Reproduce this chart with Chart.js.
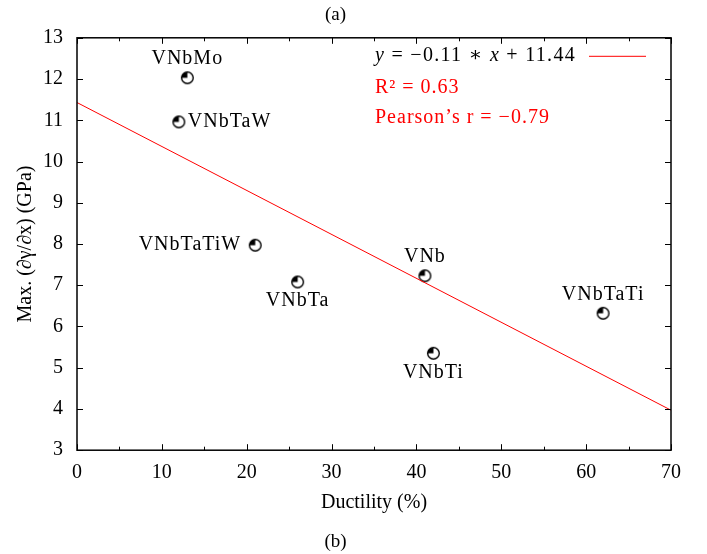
<!DOCTYPE html>
<html>
<head>
<meta charset="utf-8">
<script src="https://cdn.jsdelivr.net/npm/chart.js@4.4.1/dist/chart.umd.min.js"></script>
<style>
  html, body { margin: 0; padding: 0; background: #fff; }
  #wrap { width: 707px; height: 554px; }
</style>
</head>
<body>
<div id="wrap"><canvas id="chartScatter"></canvas></div>
<script>
const alloys = ["VNbMo", "VNbTaW", "VNbTaTiW", "VNbTa", "VNb", "VNbTi", "VNbTaTi"];
const ductility = [13, 12, 21, 26, 41, 42, 62];
const maxGradient = [12.03, 10.96, 7.97, 7.08, 7.23, 5.35, 6.32];
const labelSide = ["above", "right", "left", "below", "above", "below", "above"];

const fitX = [0, 70];
const fitY = [11.43, 3.97];
const fitLabel = "y = −0.11 ∗ x + 11.44";
const statLines = ["R² = 0.63", "Pearson’s r = −0.79"];

const xMinorTicks = [0, 5, 10, 15, 20, 25, 30, 35, 40, 45, 50, 55, 60, 65, 70];
const yTicks = [3, 4, 5, 6, 7, 8, 9, 10, 11, 12, 13];

const serif = "'Liberation Serif', 'DejaVu Serif', serif";
Chart.defaults.font.family = serif;
Chart.defaults.font.size = 20;
Chart.defaults.color = "#000";

// circle with the upper-left quarter filled
const marker = (() => {
  const c = document.createElement("canvas");
  c.width = 15;
  c.height = 15;
  const g = c.getContext("2d");
  g.beginPath();
  g.arc(7.5, 7.5, 5.8, 0, Math.PI * 2);
  g.fillStyle = "#fff";
  g.fill();
  g.beginPath();
  g.moveTo(7.5, 7.5);
  g.arc(7.5, 7.5, 5.8, Math.PI, Math.PI * 1.5);
  g.closePath();
  g.fillStyle = "#000";
  g.fill();
  g.beginPath();
  g.arc(7.5, 7.5, 5.8, 0, Math.PI * 2);
  g.lineWidth = 1.4;
  g.strokeStyle = "#000";
  g.stroke();
  return c;
})();

const frame = {
  id: "frame",
  afterDatasetsDraw(chart) {
    const { ctx, chartArea: a, scales } = chart;
    ctx.save();
    ctx.strokeStyle = "#000";
    ctx.lineWidth = 1;
    ctx.beginPath();
    xMinorTicks.forEach(v => {
      const px = Math.round(scales.x.getPixelForValue(v)) + 0.5;
      const len = v % 10 === 0 ? 6 : 3.5;
      ctx.moveTo(px, a.bottom); ctx.lineTo(px, a.bottom - len);
      ctx.moveTo(px, a.top); ctx.lineTo(px, a.top + len);
    });
    yTicks.forEach(v => {
      const py = Math.round(scales.y.getPixelForValue(v)) + 0.5;
      ctx.moveTo(a.left, py); ctx.lineTo(a.left + 6, py);
      ctx.moveTo(a.right, py); ctx.lineTo(a.right - 6, py);
    });
    ctx.stroke();
    ctx.lineWidth = 1.5;
    ctx.strokeRect(a.left, a.top, a.right - a.left, a.bottom - a.top);

    // point labels
    ctx.fillStyle = "#000";
    ctx.font = "20px " + serif;
    ctx.letterSpacing = "1px";
    ctx.textBaseline = "middle";
    alloys.forEach((name, i) => {
      const px = scales.x.getPixelForValue(ductility[i]);
      const py = scales.y.getPixelForValue(maxGradient[i]);
      const side = labelSide[i];
      if (side === "above") { ctx.textAlign = "center"; ctx.fillText(name, px, py - 19); }
      if (side === "below") { ctx.textAlign = "center"; ctx.fillText(name, px, py + 19); }
      if (side === "right") { ctx.textAlign = "left"; ctx.fillText(name, px + 9, py); }
      if (side === "left") { ctx.textAlign = "right"; ctx.fillText(name, px - 14, py); }
    });

    // key: equation stretched to the width it has in the figure
    const kx = a.left + 298;
    const ky = a.top + 18;
    ctx.textAlign = "left";
    const parts = [["y", true], [" = −0.11 ∗ ", false], ["x", true], [" + 11.44", false]];
    ctx.letterSpacing = "0px";
    let w0 = 0, n = 0;
    parts.forEach(([t, it]) => {
      ctx.font = (it ? "italic " : "") + "20px " + serif;
      w0 += ctx.measureText(t).width;
      n += t.length;
    });
    const ls = Math.max(0, (201 - w0) / n);
    ctx.letterSpacing = ls.toFixed(2) + "px";
    let cx = kx;
    parts.forEach(([t, it]) => {
      ctx.font = (it ? "italic " : "") + "20px " + serif;
      ctx.fillText(t, cx, ky);
      cx += ctx.measureText(t).width;
    });
    ctx.strokeStyle = "#ff0000";
    ctx.lineWidth = 1;
    ctx.beginPath();
    ctx.moveTo(a.right - 82, ky + 0.5);
    ctx.lineTo(a.right - 25, ky + 0.5);
    ctx.stroke();
    ctx.fillStyle = "#ff0000";
    ctx.font = "20px " + serif;
    ctx.letterSpacing = "1px";
    statLines.forEach((t, i) => ctx.fillText(t, kx, ky + 32 + i * 30));
    ctx.restore();
  },
};

new Chart(document.getElementById("chartScatter").getContext("2d"), {
  type: "scatter",
  data: {
    datasets: [
      {
        label: fitLabel,
        type: "line",
        data: fitX.map((x, i) => ({ x, y: fitY[i] })),
        borderColor: "#ff0000",
        borderWidth: 1,
        pointRadius: 0,
        fill: false,
      },
      {
        label: "alloys",
        data: ductility.map((x, i) => ({ x, y: maxGradient[i] })),
        pointStyle: marker,
        pointRadius: 6,
      },
    ],
  },
  options: {
    responsive: true,
    maintainAspectRatio: false,
    animation: false,
    layout: { padding: { top: 0, right: 36, bottom: 0, left: 0 } },
    plugins: {
      legend: { display: false },
      tooltip: { enabled: false },
      title: {
        display: true,
        text: "(a)",
        font: { size: 19, weight: "normal" },
        padding: { top: 4, bottom: 11 },
      },
      subtitle: {
        display: true,
        position: "bottom",
        text: "(b)",
        font: { size: 19 },
        padding: { top: 0, bottom: 1 },
      },
    },
    scales: {
      x: {
        type: "linear",
        min: 0,
        max: 70,
        ticks: { stepSize: 10, padding: 3, maxRotation: 0 },
        grid: { display: false },
        border: { display: false },
        title: { display: true, text: "Ductility (%)", padding: { top: 4, bottom: 15 } },
        afterFit: scale => { scale.height = 80; },
      },
      y: {
        type: "linear",
        min: 3,
        max: 13,
        ticks: { stepSize: 1, padding: 6 },
        grid: { display: false },
        border: { display: false },
        title: { display: true, text: "Max. (∂γ/∂x) (GPa)", padding: { top: 14, bottom: 4 } },
        afterFit: scale => { scale.width = 77; },
      },
    },
  },
  plugins: [frame],
});
</script>
</body>
</html>
